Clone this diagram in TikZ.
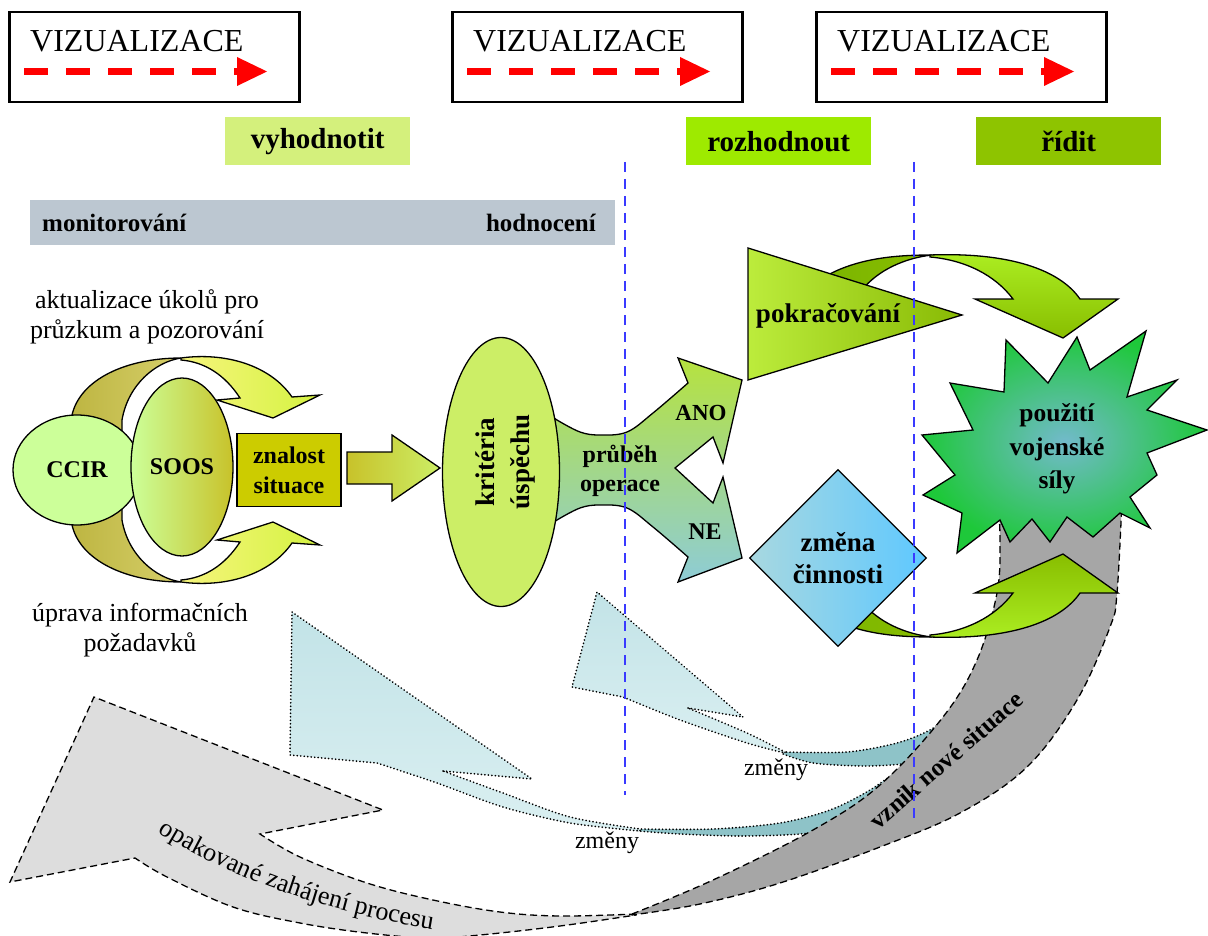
\documentclass[tikz,border=0pt]{standalone}
\usepackage{fontspec}
\setmainfont{Liberation Serif}
\usetikzlibrary{shapes.geometric,decorations.text}

\definecolor{vyh}{HTML}{D4F07C}
\definecolor{roz}{HTML}{9EEA00}
\definecolor{rid}{HTML}{8EC400}
\definecolor{barg}{HTML}{BCC7D1}
\definecolor{dashblue}{HTML}{3A3AFF}
\definecolor{ccirc}{HTML}{CCFF99}
\definecolor{sooso}{HTML}{C8C22A}
\definecolor{znalc}{HTML}{CCCC00}
\definecolor{kritc}{HTML}{CCEE66}
\definecolor{olivea}{HTML}{BDB541}
\definecolor{oliveb}{HTML}{D6CF6A}
\definecolor{yela}{HTML}{F6F57C}
\definecolor{yelb}{HTML}{D4F241}
\definecolor{prua}{HTML}{B6E23E}
\definecolor{prub}{HTML}{8ECCD6}
\definecolor{tria}{HTML}{BCEC3C}
\definecolor{trib}{HTML}{88BA04}
\definecolor{grna}{HTML}{ACEE22}
\definecolor{grnb}{HTML}{88BE00}
\definecolor{grnd}{HTML}{7AB400}
\definecolor{diaa}{HTML}{A8D8E0}
\definecolor{diab}{HTML}{5EC8FF}
\definecolor{stara}{HTML}{72BACB}
\definecolor{starb}{HTML}{1EC83A}
\definecolor{lbla}{HTML}{C2E3E7}
\definecolor{lblb}{HTML}{DAEFF1}
\definecolor{tealc}{HTML}{8EC3C8}
\definecolor{lgray}{HTML}{DDDDDD}
\definecolor{dgray}{HTML}{A6A6A6}

\begin{document}
\begin{tikzpicture}[x=1pt,y=-1pt,
  shapeline/.style={draw=black, line width=1.3pt, line join=miter},
  vizbox/.style={draw=black, line width=2.5pt, fill=white, minimum width=290pt,
    minimum height=90pt, anchor=north west, inner sep=0pt},
  viztext/.style={font=\fontsize{32}{36}\selectfont, anchor=base west, inner sep=0pt},
  reddash/.style={draw=red, line width=7pt, dash pattern=on 24pt off 18pt},
  phase/.style={font=\bfseries\fontsize{29}{34}\selectfont, minimum width=185pt,
    minimum height=48pt, anchor=north west, inner sep=0pt},
  bartext/.style={font=\bfseries\fontsize{25}{30}\selectfont, inner sep=0pt},
  note/.style={font=\fontsize{26}{30}\selectfont, align=center, inner sep=0pt},
  lab24/.style={font=\bfseries\fontsize{24}{29}\selectfont, align=center, inner sep=0pt},
  lab27/.style={font=\bfseries\fontsize{27}{33}\selectfont, align=center, inner sep=0pt},
  changes/.style={font=\fontsize{24}{28}\selectfont, inner sep=0pt},
  phaseline/.style={draw=dashblue, line width=2.6pt, dash pattern=on 10pt off 7pt},
  grayband/.style={draw=black, line width=1.3pt, dash pattern=on 7pt off 4pt},
  dotband/.style={draw=black, line width=1.8pt, line cap=round, dash pattern=on 0.1pt off 3.4pt},
]
\useasboundingbox (0,0) rectangle (1208,936);

% ---- visualisation boxes with dashed red arrows
\foreach \i/\dx in {1/0,2/443,3/807}{
  \node[vizbox] (viz\i) at (8+\dx,11) {};
  \node[viztext] (vizt\i) at (30+\dx,52) {VIZUALIZACE};
  \coordinate (rs\i) at (24+\dx,71.5);
  \coordinate (re\i) at (240+\dx,71.5);
  \draw[reddash] (rs\i) -- (re\i);
  \fill[red] (237+\dx,57) -- (267+\dx,71.5) -- (237+\dx,86) -- cycle;
}

% ---- phase labels
\node[phase, fill=vyh] (ph1) at (225,117) {vyhodnotit};
\node[phase, fill=roz] (ph2) at (686,117) {rozhodnout};
\node[phase, fill=rid] (ph3) at (976,117) {řídit};

% ---- monitoring bar
\node[fill=barg, minimum width=585pt, minimum height=45pt, anchor=north west, inner sep=0pt] (bar) at (30,200) {};
\node[bartext, anchor=west] (mon) at (42,223) {monitorování};
\node[bartext, anchor=east] (hod) at (596,223) {hodnocení};

% ---- notes
\node[note] (akt) at (147,317) {aktualizace úkolů pro\\průzkum a pozorování};
\node[note] (upr) at (140,630) {úprava informačních\\požadavků};

% ---- circular arrows around CCIR / SOOS
\draw[shapeline, left color=olivea, right color=oliveb]
  (70,445) -- (72,415) .. controls (80,380) and (125,358) .. (181,358)
  .. controls (155,362) and (128,385) .. (122,420) -- (122,445) -- cycle;
\draw[shapeline, left color=yela, right color=yelb]
  (181,358) .. controls (225,352) and (270,365) .. (292,397) -- (320,395) -- (273,418)
  -- (217,400) -- (240,398) .. controls (225,375) and (205,362) .. (181,360) -- cycle;
\draw[shapeline, left color=olivea, right color=oliveb]
  (70,495) -- (72,525) .. controls (80,560) and (125,582) .. (181,582)
  .. controls (155,578) and (128,555) .. (122,520) -- (122,495) -- cycle;
\draw[shapeline, left color=yela, right color=yelb]
  (181,582) .. controls (225,588) and (270,575) .. (292,543) -- (320,545) -- (273,522)
  -- (217,540) -- (240,542) .. controls (225,565) and (205,578) .. (181,580) -- cycle;

\node[shapeline, ellipse, fill=ccirc, minimum width=128pt, minimum height=110pt,
  inner sep=0pt, font=\bfseries\fontsize{24}{29}\selectfont] (ccir) at (77,470) {CCIR};
\node[shapeline, ellipse, left color=ccirc, right color=sooso, minimum width=102pt,
  minimum height=178pt, inner sep=0pt, font=\bfseries\fontsize{24}{29}\selectfont] (soos) at (182,467) {SOOS};
\node[shapeline, lab24, fill=znalc, minimum width=104pt, minimum height=73pt,
  font=\bfseries\fontsize{24}{30}\selectfont] (znal) at (289,470) {znalost\\situace};

\draw[shapeline, left color=sooso, right color=kritc]
  (347,452) -- (392,452) -- (392,435) -- (440,468) -- (392,501) -- (392,484) -- (347,484) -- cycle;

% ---- course of operation (split arrow)
\draw[shapeline, top color=prua, bottom color=prub]
  (535,405) -- plot[smooth, tension=0.6] coordinates {(557,420) (580,432) (600,435) (627,432) (653,413) (688,383)}
  -- (678,358) -- (742,380) -- (723,463) -- (713,437) -- (675,468) -- (713,503) -- (723,477)
  -- (742,558) -- (678,582)
  -- plot[smooth, tension=0.6] coordinates {(688,557) (653,527) (627,508) (600,505) (580,508) (557,520)}
  -- (535,535) -- cycle;
\node[lab24] (prub) at (620,471) {průběh\\operace};
\node[lab24, font=\bfseries\fontsize{23}{28}\selectfont] (ano) at (701,413) {ANO};
\node[lab24] (ne) at (705,532) {NE};

\node[shapeline, ellipse, fill=kritc, minimum width=117pt, minimum height=269pt, inner sep=0pt] (krit) at (501,472) {};
\node[lab27, rotate=90, font=\bfseries\fontsize{27}{35}\selectfont] (kritt) at (505,462) {kritéria\\úspěchu};

% ---- continuation arrow and triangle
\draw[shapeline, left color=grnd, right color=grnb]
  (815,283) .. controls (850,258) and (895,255) .. (932,255)
  .. controls (905,258) and (878,270) .. (862,290) -- cycle;
\draw[shapeline, top color=grna, bottom color=grnb]
  (930,255) .. controls (1010,252) and (1060,270) .. (1080,299) -- (1118,299) -- (1063,338)
  -- (975,299) -- (1013,299) .. controls (995,275) and (965,260) .. (930,257) -- cycle;
\draw[shapeline, left color=tria, right color=trib] (748,248) -- (962,315) -- (748,380) -- cycle;
\node[lab27] (pokr) at (828,316) {pokračování};

% ---- change arrows (light blue ribbons)
\draw[dotband, fill=tealc]
  plot[smooth] coordinates {(638,829) (713,829) (780,823) (830,810) (870,790) (905,765)}
  -- plot[smooth] coordinates {(905,805) (860,826) (800,834) (740,836) (680,834) (638,831)} -- cycle;
\draw[dotband, top color=lbla, bottom color=lblb]
  (443,771) -- (532,779) -- (292,612) -- (290,755) -- (377,763)
  -- plot[smooth] coordinates {(377,763) (437,783) (503,807) (570,823) (640,831)}
  -- plot[smooth] coordinates {(640,829) (570,817) (503,793) (443,771)} -- cycle;
\draw[dotband, fill=tealc]
  plot[smooth] coordinates {(783,752) (847,752) (897,743) (930,730) (955,712)}
  -- plot[smooth] coordinates {(945,758) (903,764) (863,766) (813,763) (783,754)} -- cycle;
\draw[dotband, top color=lbla, bottom color=lblb]
  (688,708) -- (743,717) -- (597,592) -- (572,687) -- (623,697)
  -- plot[smooth] coordinates {(623,697) (680,720) (747,743) (785,753)}
  -- plot[smooth] coordinates {(785,752) (747,733) (688,708)} -- cycle;
\node[changes] (zm1) at (776,770) {změny};
\node[changes] (zm2) at (607,843) {změny};

% ---- restart arrow (grey ribbon)
\draw[grayband, fill=lgray]
  plot[smooth, tension=0.6] coordinates {(636,914) (560,916) (500,912) (433,900) (367,883) (300,857) (260,834)}
  -- (383,810) -- (94,697) -- (10,882) -- (135,858)
  -- plot[smooth, tension=0.6] coordinates {(135,858) (167,877) (233,907) (300,923) (367,933) (430,938) (480,935) (560,926) (636,915)}
  -- cycle;
\draw[grayband, fill=dgray]
  plot[smooth, tension=0.6] coordinates {(632,914) (713,880) (813,830) (880,785) (943,717) (977,660) (997,593) (1000,540) (998,500)}
  -- (1122,500)
  -- plot[smooth, tension=0.6] coordinates {(1122,500) (1117,593) (1110,627) (1077,700) (1027,767) (960,813) (880,847) (780,883) (700,904) (632,915)}
  -- cycle;
\path[decorate, decoration={text along path,
  text={|\fontsize{26}{30}\selectfont|opakované zahájení procesu}}]
  (158,832) .. controls (230,878) and (330,915) .. (455,933);
\node[font=\bfseries\fontsize{25}{30}\selectfont, rotate=41, inner sep=0pt] (vznik) at (946,760) {vznik nové situace};

% ---- change of activity arrow and diamond
\draw[shapeline, left color=grnd, right color=grnb]
  (815,609) .. controls (850,634) and (895,637) .. (932,637)
  .. controls (905,634) and (878,622) .. (862,602) -- cycle;
\draw[shapeline, top color=grnb, bottom color=grna]
  (930,637) .. controls (1010,640) and (1060,622) .. (1080,593) -- (1118,593) -- (1063,554)
  -- (975,593) -- (1013,593) .. controls (995,617) and (965,632) .. (930,635) -- cycle;
\node[shapeline, diamond, left color=diaa, right color=diab, minimum width=177pt,
  minimum height=177pt, inner sep=0pt, lab27, font=\bfseries\fontsize{27}{32}\selectfont] (zmena) at (838,558) {změna\\činnosti};

% ---- use of force (starburst)
\draw[shapeline, inner color=stara, outer color=starb]
  (1006,340) -- (1048,383) -- (1077,337) -- (1090,370) -- (1146,331) -- (1127,397)
  -- (1177,380) -- (1147,410) -- (1207,430) -- (1147,453) -- (1157,475) -- (1130,497)
  -- (1150,528) -- (1120,513) -- (1093,537) -- (1067,517) -- (1050,542) -- (1032,519)
  -- (1010,542) -- (1000,520) -- (957,553) -- (962,513) -- (923,495) -- (955,475)
  -- (922,435) -- (973,430) -- (950,383) -- (1004,392) -- cycle;
\node[lab24, font=\bfseries\fontsize{25.5}{33.5}\selectfont] (sila) at (1057,449) {použití\\vojenské\\síly};

% ---- phase separators
\coordinate (s1t) at (625,162); \coordinate (s1b) at (625,795);
\coordinate (s2t) at (914,162); \coordinate (s2b) at (914,823);
\draw[phaseline] (s1t) -- (s1b);
\draw[phaseline] (s2t) -- (s2b);
\end{tikzpicture}
\end{document}
